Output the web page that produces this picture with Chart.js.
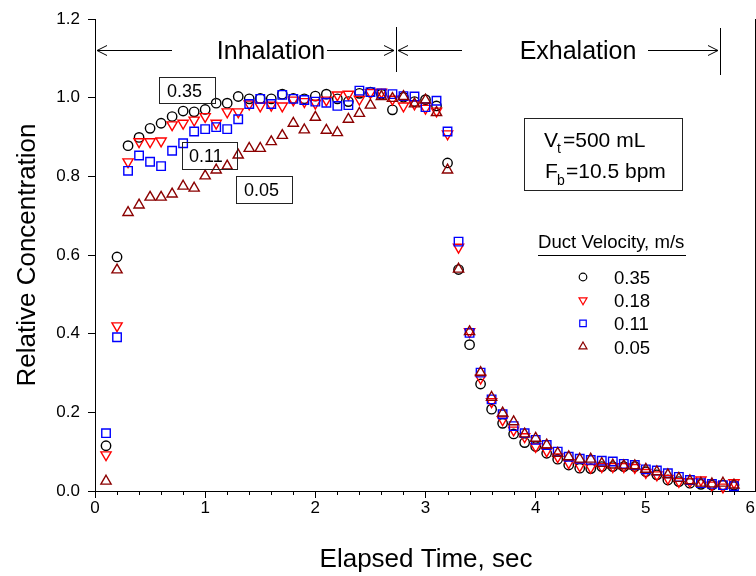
<!DOCTYPE html>
<html><head><meta charset="utf-8">
<script src="https://cdn.jsdelivr.net/npm/chart.js@4/dist/chart.umd.min.js"></script>
<style>html,body{margin:0;padding:0;background:#fff}</style>
</head><body>
<canvas id="c" width="756" height="576"></canvas>
<script>
// ---------- data ----------
const times = [0.1,0.2,0.3,0.4,0.5,0.6,0.7,0.8,0.9,1.0,1.1,1.2,1.3,1.4,1.5,1.6,1.7,1.8,1.9,2.0,
  2.1,2.2,2.3,2.4,2.5,2.6,2.7,2.8,2.9,3.0,3.1,3.2,3.3,3.4,3.5,3.6,3.7,3.8,3.9,4.0,
  4.1,4.2,4.3,4.4,4.5,4.6,4.7,4.8,4.9,5.0,5.1,5.2,5.3,5.4,5.5,5.6,5.7,5.8];
const conc035 = [0.115,0.595,0.878,0.899,0.922,0.935,0.952,0.966,0.964,0.970,
  0.986,0.986,1.003,0.997,0.998,0.997,1.009,0.998,0.997,1.004,
  1.009,0.997,0.990,1.011,1.014,1.009,0.969,1.001,0.990,0.995,
  0.979,0.834,0.563,0.372,0.272,0.208,0.172,0.145,0.123,0.113,
  0.096,0.081,0.066,0.058,0.057,0.062,0.062,0.062,0.062,0.049,
  0.041,0.028,0.024,0.020,0.017,0.015,0.015,0.015];
const conc018 = [0.092,0.420,0.837,0.888,0.888,0.890,0.931,0.935,0.943,0.952,
  0.935,0.964,0.964,0.984,0.979,0.981,0.979,0.994,0.990,0.986,
  0.994,1.007,1.009,0.996,1.013,1.014,0.996,0.979,0.984,0.973,
  0.966,0.908,0.620,0.405,0.287,0.227,0.181,0.155,0.138,0.113,
  0.102,0.087,0.072,0.064,0.060,0.062,0.062,0.062,0.060,0.047,
  0.041,0.032,0.024,0.024,0.028,0.015,0.010,0.021];
const conc011 = [0.147,0.391,0.814,0.853,0.837,0.826,0.865,0.884,0.914,0.920,
  0.925,0.920,0.945,0.984,0.997,0.984,1.007,0.997,0.994,0.990,
  0.987,0.979,0.981,1.018,1.014,1.011,1.009,1.004,1.003,0.976,
  0.992,0.914,0.634,0.402,0.301,0.233,0.195,0.165,0.147,0.130,
  0.117,0.100,0.087,0.082,0.079,0.077,0.075,0.069,0.066,0.055,
  0.052,0.045,0.036,0.028,0.020,0.018,0.015,0.012];
const conc005 = [0.025,0.562,0.708,0.727,0.747,0.747,0.755,0.775,0.770,0.801,
  0.816,0.826,0.854,0.871,0.871,0.888,0.904,0.935,0.918,0.950,
  0.917,0.911,0.945,0.960,0.981,1.003,0.998,1.003,0.984,0.994,
  0.962,0.816,0.564,0.405,0.301,0.238,0.198,0.176,0.145,0.134,
  0.117,0.096,0.087,0.081,0.081,0.070,0.066,0.064,0.064,0.055,
  0.049,0.041,0.032,0.026,0.020,0.018,0.020,0.015];
const seriesLabels = ['0.35','0.18','0.11','0.05'];
const xTickLabels = [0,1,2,3,4,5,6];
const xMinorTicks = [0.2,0.4,0.6,0.8,1.2,1.4,1.6,1.8,2.2,2.4,2.6,2.8,3.2,3.4,3.6,3.8,4.2,4.4,4.6,4.8,5.2,5.4,5.6,5.8];
const xTitle = 'Elapsed Time, sec';
const yTitle = 'Relative Concentration';
const legendTitle = 'Duct Velocity, m/s';

// ---------- styles ----------
const FONT = '"Liberation Sans", Arial, Helvetica, sans-serif';
const styles = [
  {style:'circle', rot:0, color:'#000000', r:4.7},
  {style:'triangle', rot:180, color:'#ff0000', r:5.9},
  {style:'rect', rot:0, color:'#0000ff', r:6.0},
  {style:'triangle', rot:0, color:'#8b0000', r:5.9}
];
const allSeries = [conc035, conc018, conc011, conc005];

const datasets = allSeries.map((vals, k) => ({
  label: seriesLabels[k],
  data: times.map((t, i) => ({x: t, y: vals[i]})),
  showLine: false,
  pointStyle: styles[k].style,
  rotation: styles[k].rot,
  pointRadius: styles[k].r,
  pointBorderWidth: 1.4,
  borderColor: styles[k].color,
  pointBorderColor: styles[k].color,
  backgroundColor: 'rgba(0,0,0,0)',
  pointBackgroundColor: 'rgba(0,0,0,0)',
  order: 4 - k,
  clip: false
}));

function drawMarker(ctx, st, x, y, r) {
  ctx.beginPath();
  if (st.style === 'circle') {
    ctx.arc(x, y, r, 0, Math.PI * 2);
  } else if (st.style === 'rect') {
    const s = r * Math.SQRT1_2;
    ctx.rect(x - s, y - s, 2 * s, 2 * s);
  } else {
    let a = st.rot * Math.PI / 180;
    ctx.moveTo(x + Math.sin(a) * r, y - Math.cos(a) * r);
    a += 2 * Math.PI / 3;
    ctx.lineTo(x + Math.sin(a) * r, y - Math.cos(a) * r);
    a += 2 * Math.PI / 3;
    ctx.lineTo(x + Math.sin(a) * r, y - Math.cos(a) * r);
    ctx.closePath();
  }
  ctx.strokeStyle = st.color;
  ctx.lineWidth = 1.2;
  ctx.stroke();
}

function hLine(ctx, x1, x2, y) { ctx.beginPath(); ctx.moveTo(x1, y); ctx.lineTo(x2, y); ctx.stroke(); }
function vLine(ctx, x, y1, y2) { ctx.beginPath(); ctx.moveTo(x, y1); ctx.lineTo(x, y2); ctx.stroke(); }
function head(ctx, x, y, dir) {
  ctx.beginPath();
  ctx.moveTo(x - dir * 10, y - 5); ctx.lineTo(x, y); ctx.lineTo(x - dir * 10, y + 5);
  ctx.stroke();
}
function box(ctx, x, y, w, h) {
  ctx.strokeStyle = '#222'; ctx.lineWidth = 1;
  ctx.strokeRect(Math.round(x) + 0.5, Math.round(y) + 0.5, w, h);
}

const overlay = {
  id: 'overlay',
  afterDraw(chart) {
    const {ctx, chartArea: a, scales: {x, y}} = chart;
    ctx.save();
    ctx.strokeStyle = '#000'; ctx.lineWidth = 1;
    // minor x ticks
    for (const v of xMinorTicks) {
      const px = Math.round(x.getPixelForValue(v)) + 0.5;
      vLine(ctx, px, a.bottom, a.bottom + 4);
    }
    // right spine
    vLine(ctx, Math.round(a.right) - 0.5, a.top, a.bottom);

    ctx.fillStyle = '#000';
    // x tick labels (kept inside the canvas)
    ctx.font = '17px ' + FONT;
    ctx.textBaseline = 'top'; ctx.textAlign = 'left';
    for (const v of xTickLabels) {
      const s = String(v);
      const w = ctx.measureText(s).width;
      let px = x.getPixelForValue(v) - w / 2;
      px = Math.min(px, chart.width - w - 1);
      ctx.fillText(s, px, a.bottom + 9);
    }

    // axis titles
    ctx.font = '26px ' + FONT;
    ctx.textAlign = 'center'; ctx.textBaseline = 'alphabetic';
    ctx.fillText(xTitle, 426, 567);
    ctx.save();
    ctx.translate(35, (a.top + a.bottom) / 2);
    ctx.rotate(-Math.PI / 2);
    ctx.fillText(yTitle, 0, 0);
    ctx.restore();

    // Inhalation / Exhalation arrows
    const ay = 50.5;
    ctx.lineWidth = 1;
    head(ctx, 97, ay, -1); hLine(ctx, 97, 172, ay);
    hLine(ctx, 327, 394, ay); head(ctx, 394, ay, 1);
    vLine(ctx, 396.5, 27, 72);
    head(ctx, 398, ay, -1); hLine(ctx, 398, 462, ay);
    hLine(ctx, 648, 718, ay); head(ctx, 718, ay, 1);
    vLine(ctx, 720.5, 28, 75);
    ctx.font = '25px ' + FONT;
    ctx.textBaseline = 'alphabetic'; ctx.textAlign = 'center';
    ctx.fillText('Inhalation', 271, 59);
    ctx.fillText('Exhalation', 578, 59);

    // series label boxes
    ctx.font = '18px ' + FONT; ctx.textAlign = 'left';
    box(ctx, 159, 77, 56, 26); ctx.fillText('0.35', 167, 97);
    box(ctx, 182, 142, 55, 27); ctx.fillText('0.11', 189, 162);
    box(ctx, 236, 176, 56, 27); ctx.fillText('0.05', 244, 196);

    // conditions box
    box(ctx, 524, 118, 158, 72);
    ctx.font = '21px ' + FONT;
    ctx.fillText('V', 544, 147);
    ctx.font = '14px ' + FONT; ctx.fillText('t', 557, 153);
    ctx.font = '21px ' + FONT; ctx.fillText('=500 mL', 563, 147);
    ctx.fillText('F', 545, 178);
    ctx.font = '14px ' + FONT; ctx.fillText('b', 557, 185);
    ctx.font = '21px ' + FONT; ctx.fillText('=10.5 bpm', 566, 178);

    // legend
    ctx.font = '18.6px ' + FONT;
    ctx.fillText(legendTitle, 538, 248);
    ctx.strokeStyle = '#000'; ctx.lineWidth = 1;
    hLine(ctx, 538, 686, 255.5);
    for (let k = 0; k < seriesLabels.length; k++) {
      const cy = 277 + k * 23.2;
      const st = styles[k];
      drawMarker(ctx, st, 583, cy, st.style === 'circle' ? 3.8 : 4.6);
      ctx.fillStyle = '#000';
      ctx.fillText(seriesLabels[k], 614, cy + 7);
    }
    ctx.restore();
  }
};

new Chart(document.getElementById('c'), {
  type: 'scatter',
  data: {datasets},
  options: {
    responsive: false,
    animation: false,
    devicePixelRatio: 1,
    layout: {autoPadding: false, padding: {top: 19, right: 0, left: 0, bottom: 0}},
    plugins: {legend: {display: false}, tooltip: {enabled: false}},
    scales: {
      x: {
        type: 'linear', min: 0, max: 6,
        ticks: {stepSize: 1, display: false},
        grid: {drawOnChartArea: false, drawTicks: true, tickLength: 7, color: '#000'},
        border: {display: true, color: '#000', width: 1},
        afterFit(s) { s.height = 85; s.paddingLeft = 0; s.paddingRight = 0; }
      },
      y: {
        type: 'linear', min: 0, max: 1.2,
        ticks: {stepSize: 0.2, color: '#000', font: {family: FONT, size: 17}, padding: 8,
          callback: v => Number(v).toFixed(1)},
        grid: {drawOnChartArea: false, drawTicks: true, tickLength: 7, color: '#000'},
        border: {display: true, color: '#000', width: 1},
        afterFit(s) { s.width = 95; s.paddingTop = 0; s.paddingBottom = 0; }
      }
    }
  },
  plugins: [overlay]
});
</script>
</body></html>
